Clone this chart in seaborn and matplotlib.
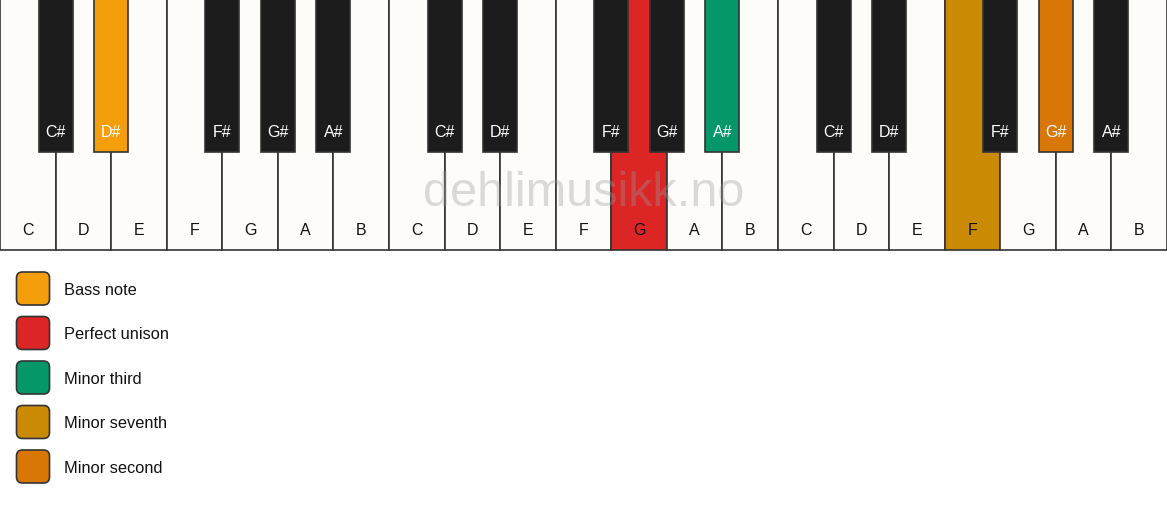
import matplotlib
matplotlib.use("Agg")
import matplotlib.pyplot as plt
from matplotlib.patches import FancyBboxPatch
import seaborn as sns
import pandas as pd

# ---- data ----
white_names = ["C", "D", "E", "F", "G", "A", "B"] * 3
black_names = ["C#", "D#", "F#", "G#", "A#"] * 3
black_after_white = [0, 1, 3, 4, 5]  # black key sits after these white keys in an octave
highlight_white = {11: "#DC2626", 17: "#CA8A04"}        # G (oct 2), F (oct 3)
highlight_black = {1: "#F59E0B", 9: "#059669", 13: "#D97706"}  # D#, A#, G#
legend_labels = ["Bass note", "Perfect unison", "Minor third", "Minor seventh", "Minor second"]
legend_colors = ["#F59E0B", "#DC2626", "#059669", "#CA8A04", "#D97706"]

WHITE = "#FDFCF8"
BLACK = "#1C1C1C"
EDGE = "#333333"

sns.set_theme(style="white")
plt.rcParams["font.family"] = ["Liberation Sans", "DejaVu Sans"]

W, H = 1167, 506
fig = plt.figure(figsize=(W / 100, H / 100), dpi=100)
fig.patch.set_facecolor("white")

kb_h = 251
ax = fig.add_axes([0, 1 - kb_h / H, 1, kb_h / H])

df = pd.DataFrame({
    "pos": list(range(len(white_names))),
    "name": white_names,
    "h": [1.0] * len(white_names),
})
df["key"] = df["pos"].astype(str)
pal = {str(i): highlight_white.get(i, WHITE) for i in df["pos"]}
sns.barplot(data=df, x="key", y="h", hue="key", palette=pal, legend=False,
            width=1.0, edgecolor=EDGE, linewidth=1.2, saturation=1, ax=ax, zorder=1)
for p in ax.patches:
    p.set_clip_on(False)

for i, n in enumerate(white_names):
    ax.text(i, 1 - 231 / kb_h, n, ha="center", va="center", fontsize=11.5,
            color="#111111", zorder=5)

# black keys
bw = 34 / (W / 21)
bh = 153 / kb_h
bi = 0
for octave in range(3):
    for j, w in enumerate(black_after_white):
        xpos = octave * 7 + w + 0.5
        col = highlight_black.get(bi, BLACK)
        bars = ax.bar(xpos, bh, bottom=1 - bh, width=bw, color=col, edgecolor=EDGE,
                      linewidth=1.2, zorder=3)
        for b in bars:
            b.set_clip_on(False)
        ax.text(xpos, 1 - 133 / kb_h, black_names[bi], ha="center", va="center",
                fontsize=11.5, color="white", zorder=5)
        bi += 1

ax.text(10, 1 - 194 / kb_h, "dehlimusikk.no", ha="center", va="center",
        fontsize=35, color="#9a9a9a", alpha=0.35, zorder=4)

ax.set_xlim(-0.5, 20.5)
ax.set_ylim(0, 1)
ax.set_xlabel("")
ax.set_ylabel("")
ax.set_xticks([])
ax.set_yticks([])
for s in ax.spines.values():
    s.set_visible(False)

# legend
lax = fig.add_axes([0, 0, 1, (H - kb_h) / H])
lax.set_xlim(0, W)
lax.set_ylim(H, kb_h)
lax.axis("off")
y0 = 289.5
step = 44.5
for k, (lab, c) in enumerate(zip(legend_labels, legend_colors)):
    yc = y0 + k * step
    box = FancyBboxPatch((16.5, yc - 16.5), 33, 33,
                         boxstyle="round,pad=0,rounding_size=6",
                         facecolor=c, edgecolor=EDGE, linewidth=1.2)
    lax.add_patch(box)
    lax.text(64, yc + 1, lab, ha="left", va="center", fontsize=11.8, color="#111111")

fig.savefig("out.png", dpi=100)
